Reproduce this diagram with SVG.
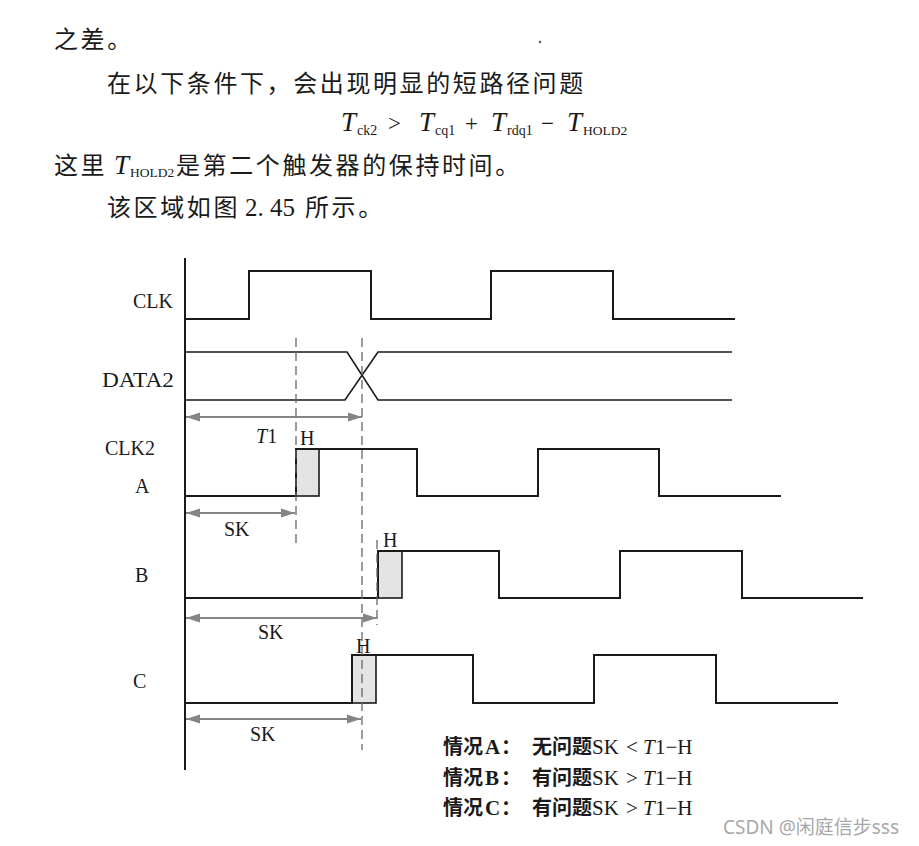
<svg xmlns="http://www.w3.org/2000/svg" width="919" height="846" viewBox="0 0 919 846">
<style>
  .cn { font-family: "Noto Sans CJK SC", "Noto Sans", sans-serif; font-size: 24px; fill: #1a1a1a; letter-spacing: 2.6px; }
  .ser { font-family: "Liberation Serif", "Noto Sans CJK SC", serif; fill: #1a1a1a; }
  .it { font-style: italic; }
  .lbl { font-family: "Liberation Serif", serif; font-size: 20px; fill: #1a1a1a; }
  .wave { fill: none; stroke: #1a1a1a; stroke-width: 2; stroke-linejoin: miter; }
  .data { fill: none; stroke: #1a1a1a; stroke-width: 1.6; }
  .hbox { fill: #e4e4e4; stroke: #1a1a1a; stroke-width: 1.6; }
  .dash { stroke: #666; stroke-width: 1.3; stroke-dasharray: 9 5; fill: none; }
  .arr { stroke: #858585; stroke-width: 1.8; fill: none; marker-start: url(#ah); marker-end: url(#ah); }
  .leg { font-family: "Liberation Serif", "Noto Sans CJK SC", serif; font-size: 21px; fill: #1a1a1a; }
  .legcn { font-family: "Noto Sans CJK SC", sans-serif; font-weight: bold; font-size: 20px; }
  .legb { font-weight: bold; }
</style>
<defs>
  <marker id="ah" viewBox="0 0 14 10" refX="14" refY="5" markerWidth="14" markerHeight="10" markerUnits="userSpaceOnUse" orient="auto-start-reverse">
    <path d="M0,0.5 L14,5 L0,9.5 z" fill="#858585"/>
  </marker>
</defs>
<rect width="919" height="846" fill="#ffffff"/>

<g id="top-text">
  <text class="cn" x="54" y="48">之差。</text>
  <text class="cn" x="107" y="92">在以下条件下，会出现明显的短路径问题</text>
  <g id="formula" class="ser">
    <text class="it" x="341" y="131" font-size="27">T</text>
    <text x="357" y="135" font-size="14">ck2</text>
    <text x="388" y="131" font-size="23">&gt;</text>
    <text class="it" x="419" y="131" font-size="27">T</text>
    <text x="435" y="135" font-size="14">cq1</text>
    <text x="465" y="131" font-size="23">+</text>
    <text class="it" x="491" y="131" font-size="27">T</text>
    <text x="507" y="135" font-size="14">rdq1</text>
    <text x="541" y="131" font-size="23">−</text>
    <text class="it" x="567" y="131" font-size="27">T</text>
    <text x="583" y="135" font-size="13.5">HOLD2</text>
  </g>
  <text class="cn" x="54" y="174">这里</text>
  <text class="ser it" x="114" y="174" font-size="27">T</text>
  <text class="ser" x="130" y="177" font-size="13.5">HOLD2</text>
  <text class="cn" x="176" y="174">是第二个触发器的保持时间。</text>
  <text class="cn" x="107" y="216">该区域如图</text>
  <text class="ser" x="245" y="216" font-size="25">2. 45</text>
  <text class="cn" x="305" y="216">所示。</text>
  <circle cx="540" cy="42" r="1.2" fill="#555"/>
</g>

<g id="axis">
  <line x1="185" y1="258" x2="185" y2="770" stroke="#1a1a1a" stroke-width="2"/>
</g>

<g id="clk">
  <text class="lbl" x="133" y="308">CLK</text>
  <path class="wave" stroke-width="2.5" d="M185,319 H249 V271 H371 V319 H491 V271 H613 V319 H735"/>
</g>

<g id="data2">
  <text class="lbl" x="102" y="387" textLength="72" lengthAdjust="spacingAndGlyphs">DATA2</text>
  <path class="data" d="M185,352 H347 L378,400 H732"/>
  <path class="data" d="M185,400 H345 L378,352 H732"/>
</g>

<g id="clk2-a">
  <text class="lbl" x="105" y="455">CLK2</text>
  <text class="lbl" x="135" y="493">A</text>
  <rect class="hbox" x="296" y="449" width="23" height="47"/>
  <path class="wave" d="M185,496 H296 V449 H417 V496 H538 V449 H659 V496 H781"/>
  <text class="lbl" x="300" y="445">H</text>
</g>

<g id="clk2-b">
  <text class="lbl" x="135" y="582">B</text>
  <rect class="hbox" x="378" y="551" width="24" height="47"/>
  <path class="wave" d="M185,598 H378 V551 H499 V598 H620 V551 H742 V598 H863"/>
  <text class="lbl" x="383" y="547">H</text>
</g>

<g id="clk2-c">
  <text class="lbl" x="133" y="688">C</text>
  <rect class="hbox" x="352" y="655" width="24" height="48"/>
  <path class="wave" d="M185,703 H352 V655 H473 V703 H594 V655 H716 V703 H838"/>
  <text class="lbl" x="356" y="653">H</text>
</g>

<g id="connectors">
  <line class="dash" x1="296" y1="338" x2="296" y2="545"/>
  <line class="dash" x1="362" y1="338" x2="362" y2="750"/>
  <line class="dash" x1="377" y1="540" x2="377" y2="625"/>
  <line class="arr" x1="186" y1="417" x2="362" y2="417"/>
  <line class="arr" x1="186" y1="513" x2="295" y2="513"/>
  <line class="arr" x1="186" y1="618" x2="377" y2="618"/>
  <line class="arr" x1="186" y1="719" x2="361" y2="719"/>
</g>

<g id="measure-labels">
  <text class="lbl" x="256" y="443"><tspan font-style="italic">T</tspan>1</text>
  <text class="lbl" x="224" y="536">SK</text>
  <text class="lbl" x="258" y="639">SK</text>
  <text class="lbl" x="250" y="741">SK</text>
</g>

<g id="legend" class="leg">
  <text y="754"><tspan class="legcn" x="443">情况</tspan><tspan class="legb" x="485">A</tspan><tspan class="legcn" x="501">：</tspan><tspan class="legcn" x="532">无问题</tspan><tspan x="592">SK</tspan><tspan x="626">&lt;</tspan><tspan x="643" font-style="italic">T</tspan><tspan x="655">1−H</tspan></text>
  <text y="785"><tspan class="legcn" x="443">情况</tspan><tspan class="legb" x="485">B</tspan><tspan class="legcn" x="501">：</tspan><tspan class="legcn" x="532">有问题</tspan><tspan x="592">SK</tspan><tspan x="626">&gt;</tspan><tspan x="643" font-style="italic">T</tspan><tspan x="655">1−H</tspan></text>
  <text y="815"><tspan class="legcn" x="443">情况</tspan><tspan class="legb" x="485">C</tspan><tspan class="legcn" x="501">：</tspan><tspan class="legcn" x="532">有问题</tspan><tspan x="592">SK</tspan><tspan x="626">&gt;</tspan><tspan x="643" font-style="italic">T</tspan><tspan x="655">1−H</tspan></text>
</g>

<g id="watermark">
  <text x="723" y="834" font-family="Noto Sans, Noto Sans CJK SC, sans-serif" font-size="19" fill="#a8a8a8">CSDN @闲庭信步sss</text>
</g>
</svg>
